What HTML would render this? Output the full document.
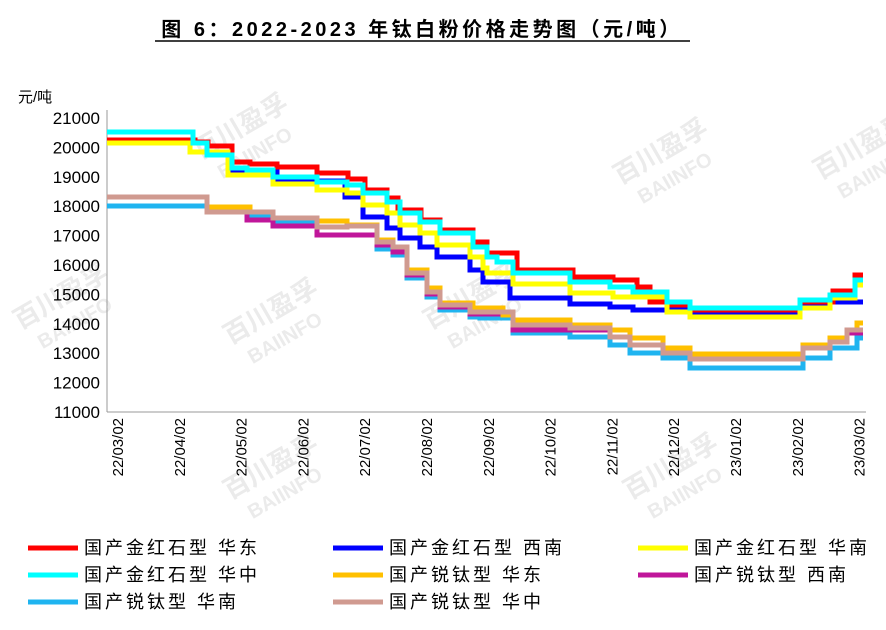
<!DOCTYPE html>
<html><head><meta charset="utf-8"><style>
body{margin:0;background:#fff;}
svg text{font-family:"Liberation Sans","Noto Sans CJK SC",sans-serif;}
</style></head><body>
<svg id="s" width="886" height="625" xmlns="http://www.w3.org/2000/svg">
<rect width="886" height="625" fill="#fff"/>
<text x="422" y="36" text-anchor="middle" font-size="20" font-weight="bold" letter-spacing="3.5" fill="#000">图 6：2022-2023 年钛白粉价格走势图（元/吨）</text>
<line x1="155" y1="41" x2="690" y2="41" stroke="#000" stroke-width="1.5"/>
<g fill="#e2e2e2" font-size="26" font-weight="bold" opacity="0.7">
<g transform="translate(200,160) rotate(-30)"><text>百川盈孚</text><text x="10" y="28" font-size="20">BAIINFO</text></g>
<g transform="translate(620,185) rotate(-30)"><text>百川盈孚</text><text x="10" y="28" font-size="20">BAIINFO</text></g>
<g transform="translate(230,345) rotate(-30)"><text>百川盈孚</text><text x="10" y="28" font-size="20">BAIINFO</text></g>
<g transform="translate(430,330) rotate(-30)"><text>百川盈孚</text><text x="10" y="28" font-size="20">BAIINFO</text></g>
<g transform="translate(230,500) rotate(-30)"><text>百川盈孚</text><text x="10" y="28" font-size="20">BAIINFO</text></g>
<g transform="translate(630,500) rotate(-30)"><text>百川盈孚</text><text x="10" y="28" font-size="20">BAIINFO</text></g>
<g transform="translate(820,180) rotate(-30)"><text>百川盈孚</text><text x="10" y="28" font-size="20">BAIINFO</text></g>
<g transform="translate(20,330) rotate(-30)"><text>百川盈孚</text><text x="10" y="28" font-size="20">BAIINFO</text></g>
</g>
<text x="18" y="102" font-size="15" fill="#000">元/吨</text>
<line x1="107" y1="110" x2="107" y2="412" stroke="#999" stroke-width="1"/>
<line x1="107" y1="412" x2="866" y2="412" stroke="#999" stroke-width="1"/>
<g id="yl" font-size="17" fill="#000" text-anchor="end"></g>
<g id="xl" font-size="15" fill="#000"></g>
<g id="ser" fill="none" stroke-width="5" stroke-linejoin="miter"></g>
<g font-size="18" fill="#000" letter-spacing="3">
<line x1="28" y1="548" x2="78" y2="548" stroke="#ff0000" stroke-width="5"/><text x="84" y="554">国产金红石型 华东</text>
<line x1="333" y1="548" x2="383" y2="548" stroke="#0000ff" stroke-width="5"/><text x="389" y="554">国产金红石型 西南</text>
<line x1="638" y1="548" x2="688" y2="548" stroke="#ffff00" stroke-width="5"/><text x="694" y="554">国产金红石型 华南</text>
<line x1="28" y1="575" x2="78" y2="575" stroke="#00ffff" stroke-width="5"/><text x="84" y="581">国产金红石型 华中</text>
<line x1="333" y1="575" x2="383" y2="575" stroke="#ffc000" stroke-width="5"/><text x="389" y="581">国产锐钛型 华东</text>
<line x1="638" y1="575" x2="688" y2="575" stroke="#c0169a" stroke-width="5"/><text x="694" y="581">国产锐钛型 西南</text>
<line x1="28" y1="602" x2="78" y2="602" stroke="#1fb4f0" stroke-width="5"/><text x="84" y="608">国产锐钛型 华南</text>
<line x1="333" y1="602" x2="383" y2="602" stroke="#d09a90" stroke-width="5"/><text x="389" y="608">国产锐钛型 华中</text>
</g>
</svg>
<script>
var NS="http://www.w3.org/2000/svg";
function el(t,a,p,txt){var e=document.createElementNS(NS,t);for(var k in a)e.setAttribute(k,a[k]);if(txt)e.textContent=txt;p.appendChild(e);return e;}
var yl=document.getElementById('yl');
for(var v=11000;v<=21000;v+=1000){var y=412-(v-11000)*0.0294;el('text',{x:100,y:y+6},yl,String(v));}
var xl=document.getElementById('xl');
var labs=["22/03/02","22/04/02","22/05/02","22/06/02","22/07/02","22/08/02","22/09/02","22/10/02","22/11/02","22/12/02","23/01/02","23/02/02","23/03/02"];
for(var i=0;i<13;i++){var x=118+61.8*i;el('text',{x:0,y:0,transform:'translate('+(x+5)+',418) rotate(-90)','text-anchor':'end'},xl,labs[i]);}
var S=[
["#0000ff",[[107,132],[193,143],[207,155],[232,172],[277,181],[345,197],[363,217],[387,228],[400,238],[420,247],[437,257],[470,270],[483,282],[510,298],[570,304],[610,307],[633,310],[690,313],[800,305],[830,302]]],
["#ff0000",[[107,140],[195,142],[208,146],[232,162],[250,164],[277,167],[317,173],[348,179],[365,190],[387,198],[398,210],[421,220],[440,230],[473,242],[487,253],[517,270],[573,277],[613,280],[637,287],[650,302],[670,305],[690,310],[800,302],[833,291],[855,275]]],
["#ffff00",[[107,143],[190,152],[228,175],[273,184],[317,190],[347,193],[363,205],[387,213],[400,225],[420,233],[437,245],[470,257],[483,268],[487,273],[513,284],[570,293],[613,297],[667,312],[690,317],[800,308],[830,298],[855,285]]],
["#00ffff",[[107,132],[193,143],[207,155],[232,168],[247,170],[273,177],[317,182],[347,185],[363,193],[387,202],[400,213],[420,222],[440,233],[473,247],[487,257],[497,262],[513,273],[570,282],[610,287],[633,292],[667,302],[690,308],[800,300],[830,295],[855,280]]],
["#1fb4f0",[[107,206],[207,212],[247,217],[273,222],[317,235],[377,249],[393,255],[407,278],[427,297],[440,310],[470,317],[480,318],[513,333],[570,337],[610,345],[630,353],[663,358],[690,368],[803,358],[830,348],[857,338]]],
["#c0169a",[[107,197],[207,212],[247,220],[273,226],[317,235],[377,245],[393,252],[407,275],[427,294],[440,307],[470,314],[513,330],[610,337],[630,345],[663,353],[690,359],[803,348],[830,342],[847,333]]],
["#ffc000",[[107,197],[207,207],[250,212],[273,218],[317,221],[347,225],[377,240],[393,247],[407,270],[427,288],[440,303],[473,308],[503,315],[513,320],[570,325],[610,330],[630,338],[663,348],[690,354],[803,345],[830,338],[847,330],[857,323]]],
["#d09a90",[[107,197],[207,212],[273,218],[317,227],[347,226],[377,242],[393,247],[407,273],[427,292],[440,305],[470,312],[513,325],[570,328],[610,337],[630,345],[663,353],[690,359],[803,348],[830,342],[847,330]]]
];
var g=document.getElementById('ser');
S.forEach(function(s){var p=s[1],d="M"+p[0][0]+" "+p[0][1];for(var i=1;i<p.length;i++){d+=" H"+p[i][0]+" V"+p[i][1];}d+=" H863";el('path',{d:d,stroke:s[0]},g);});
</script>
</body></html>
